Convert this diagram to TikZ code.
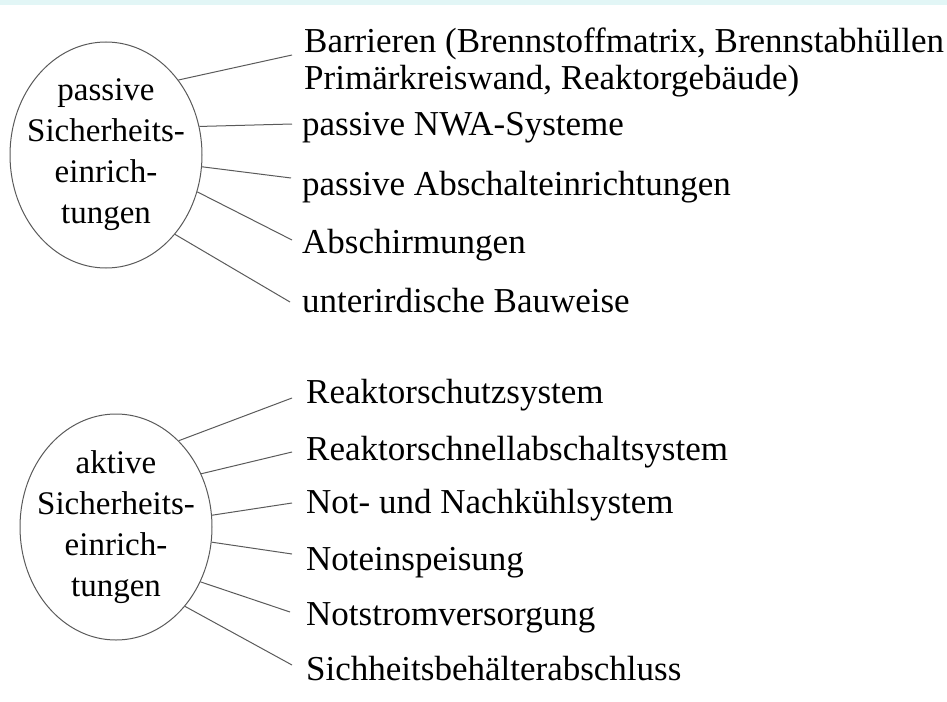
\documentclass[tikz,border=0pt]{standalone}
\usepackage{fontspec}
\setmainfont{Liberation Serif}
\usetikzlibrary{shapes.geometric}
\definecolor{band}{RGB}{226,246,246}
\definecolor{wire}{RGB}{90,90,90}
\begin{document}
\begin{tikzpicture}[x=1pt,y=-1pt,
  group/.style={ellipse, draw=wire, line width=1pt, minimum width=192pt,
    minimum height=226pt, inner sep=0pt},
  grouptext/.style={inner sep=0pt, align=center, font=\fontsize{33}{41}\selectfont},
  item/.style={anchor=base west, inner sep=0pt, align=left,
    font=\fontsize{35}{37}\selectfont},
  link/.style={draw=wire, line width=1pt}]
\useasboundingbox (0,0) rectangle (947,701);
\fill[band] (0,0) rectangle (947,5);

% passive safety features
\node[group] (pg) at (106,155) {};
\node[grouptext] (pgt) at (pg.center) {passive\\Sicherheits-\\einrich-\\tungen};
\node[item] (p1) at (304,89)
  {Barrieren (Brennstoffmatrix, Brennstabhüllen\\Primärkreiswand, Reaktorgebäude)};
\node[item] (p2) at (302,135) {passive NWA-Systeme};
\node[item] (p3) at (302,195) {passive Abschalteinrichtungen};
\node[item] (p4) at (302,253) {Abschirmungen};
\node[item] (p5) at (302,312) {unterirdische Bauweise};

\coordinate (pe1) at (292,55);
\coordinate (pe2) at (292,124);
\coordinate (pe3) at (291,178);
\coordinate (pe4) at (292,240);
\coordinate (pe5) at (290,302);

\draw[link] (pg.46.9) -- (pe1);
\draw[link] (pg.17.7) -- (pe2);
\draw[link] (pg.-7.7) -- (pe3);
\draw[link] (pg.-22.7) -- (pe4);
\draw[link] (pg.-49.2) -- (pe5);

% active safety features
\node[group] (ag) at (116,527) {};
\node[grouptext] (agt) at (ag.center) {aktive\\Sicherheits-\\einrich-\\tungen};
\node[item] (a1) at (306,403) {Reaktorschutzsystem};
\node[item] (a2) at (306,460) {Reaktorschnellabschaltsystem};
\node[item] (a3) at (306,513) {Not- und Nachkühlsystem};
\node[item] (a4) at (306,570) {Noteinspeisung};
\node[item] (a5) at (306,625) {Notstromversorgung};
\node[item] (a6) at (306,680) {Sichheitsbehälterabschluss};

\coordinate (ae1) at (292,398);
\coordinate (ae2) at (292,452);
\coordinate (ae3) at (292,503);
\coordinate (ae4) at (292,554);
\coordinate (ae5) at (290,612);
\coordinate (ae6) at (292,665);

\draw[link] (ag.54.5) -- (ae1);
\draw[link] (ag.32.1) -- (ae2);
\draw[link] (ag.7.1) -- (ae3);
\draw[link] (ag.-9.5) -- (ae4);
\draw[link] (ag.-33.2) -- (ae5);
\draw[link] (ag.-49.9) -- (ae6);
\end{tikzpicture}
\end{document}
